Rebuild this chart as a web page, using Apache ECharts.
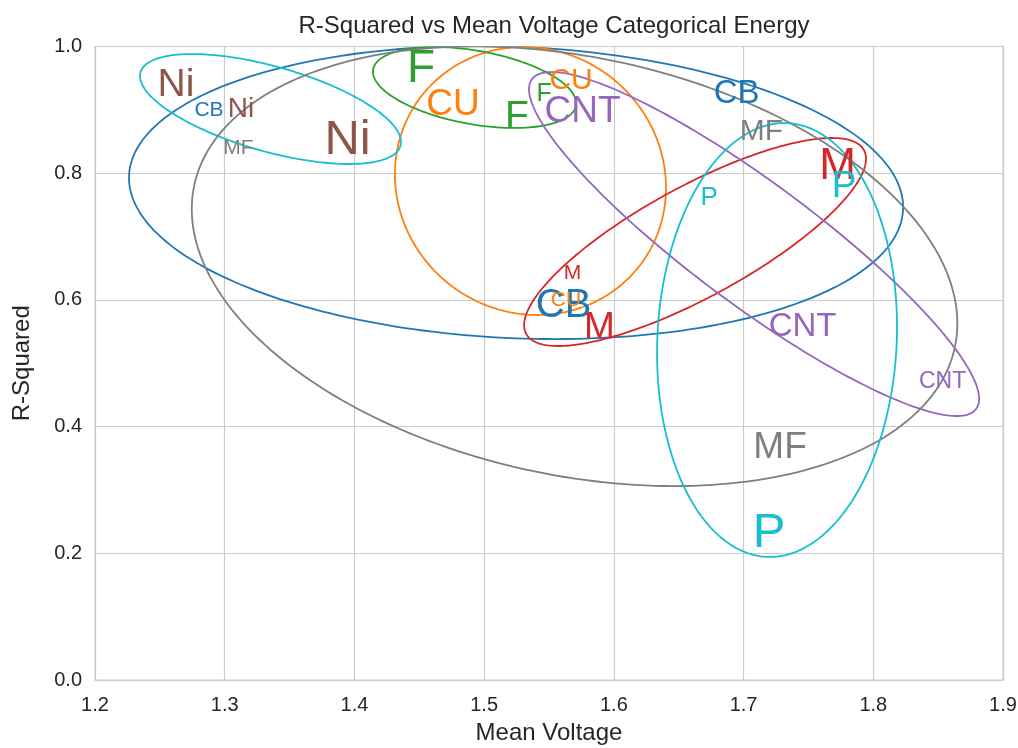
<!DOCTYPE html>
<html>
<head>
<meta charset="utf-8">
<script src="https://cdn.jsdelivr.net/npm/echarts@6/dist/echarts.min.js"></script>
<style>html,body{margin:0;padding:0;background:#fff;}#chart{width:1018px;height:748px;}</style>
</head>
<body>
<div id="chart"></div>
<script>
// ---- data ----
const categories = ['CB', 'CU', 'F', 'M', 'CNT', 'Ni', 'MF', 'P'];
const categoryColors = ['#1f77b4', '#ff7f0e', '#2ca02c', '#d62728', '#9467bd', '#8c564b', '#7f7f7f', '#17becf'];
// points: [meanVoltage, rSquared, relative magnitude]
const pointsCB  = [[1.2879, 0.9006, 21], [1.6946, 0.9290, 33], [1.5612, 0.5959, 40]];
const pointsCU  = [[1.4760, 0.9132, 37], [1.5670, 0.9487, 30], [1.5631, 0.6006, 21]];
const pointsF   = [[1.4513, 0.9684, 46], [1.5253, 0.8935, 39], [1.5462, 0.9274, 25]];
const pointsM   = [[1.7724, 0.8145, 44], [1.5681, 0.6433, 21], [1.5889, 0.5604, 37]];
const pointsCNT = [[1.5758, 0.9021, 37], [1.7455, 0.5604, 33], [1.8534, 0.4736, 23]];
const pointsNi  = [[1.2624, 0.9432, 39], [1.3126, 0.9045, 28], [1.3947, 0.8564, 49]];
const pointsMF  = [[1.3106, 0.8406, 21], [1.7138, 0.8682, 30], [1.7281, 0.3710, 37]];
const pointsP   = [[1.7774, 0.7837, 37], [1.6734, 0.7640, 26], [1.7196, 0.2360, 49]];
const pointSets = [pointsCB, pointsCU, pointsF, pointsM, pointsCNT, pointsNi, pointsMF, pointsP];

// ellipses: [centerX, centerY, halfWidthX, halfHeightY, correlation]
const ellipseCategories = ['CB', 'CU', 'F', 'M', 'CNT', 'Ni', 'MF', 'P'];
const ellipseColors = ['#1f77b4', '#ff7f0e', '#2ca02c', '#d62728', '#9467bd', '#17becf', '#7f7f7f', '#17becf'];
const ellipseCB  = [1.5246, 0.7695, 0.2984, 0.2313, -0.10];
const ellipseCU  = [1.5357, 0.7877, 0.1045, 0.2115, -0.05];
const ellipseF   = [1.4926, 0.9353, 0.0783, 0.0639, -0.39];
const ellipseM   = [1.6626, 0.6914, 0.1318, 0.1642, 0.80];
const ellipseCNT = [1.7081, 0.6882, 0.1735, 0.2715, -0.90];
const ellipseNi  = [1.3353, 0.9013, 0.1006, 0.0868, -0.60];
const ellipseMF  = [1.5697, 0.6531, 0.2951, 0.3470, -0.26];
const ellipseP   = [1.7258, 0.5367, 0.0925, 0.3425, 0.06];
const ellipses = [ellipseCB, ellipseCU, ellipseF, ellipseM, ellipseCNT, ellipseNi, ellipseMF, ellipseP];

const xTicks = ['1.2', '1.3', '1.4', '1.5', '1.6', '1.7', '1.8', '1.9'];
const yTicks = ['0.0', '0.2', '0.4', '0.6', '0.8', '1.0'];

// ---- chart ----
const chart = echarts.init(document.getElementById('chart'), null, {renderer: 'canvas'});
const FONT = '"Liberation Sans", Arial, Helvetica, sans-serif';
const TXT = '#262626';

const series = [];
ellipses.forEach((e, i) => {
  series.push({
    type: 'custom',
    name: 'ellipse-' + ellipseCategories[i],
    clip: true,
    silent: true,
    z: 2,
    data: [e],
    renderItem: function (params, api) {
      const cx = api.value(0), cy = api.value(1), sx = api.value(2), sy = api.value(3), r = api.value(4);
      const a = Math.sqrt(1 + r), b = Math.sqrt(1 - r);
      const pts = [];
      const N = 240;
      for (let k = 0; k < N; k++) {
        const t = 2 * Math.PI * k / N;
        const u = a * Math.cos(t), v = b * Math.sin(t);
        pts.push(api.coord([cx + sx * (u - v) / Math.SQRT2, cy + sy * (u + v) / Math.SQRT2]));
      }
      return {
        type: 'polygon',
        shape: {points: pts},
        style: {fill: 'none', stroke: ellipseColors[i], lineWidth: 1.8}
      };
    }
  });
});
pointSets.forEach((pts, i) => {
  series.push({
    type: 'scatter',
    name: categories[i],
    symbolSize: 0,
    z: 5,
    silent: true,
    itemStyle: {opacity: 1, color: categoryColors[i]},
    data: pts.map(p => ({
      value: [p[0], p[1]],
      label: {fontSize: p[2], offset: [0, Math.round(p[2] * 0.07)]}
    })),
    label: {
      show: true,
      position: 'inside',
      formatter: categories[i],
      color: categoryColors[i],
      opacity: 1,
      fontFamily: FONT,
      align: 'center',
      verticalAlign: 'middle'
    }
  });
});

chart.setOption({
  animation: false,
  backgroundColor: '#ffffff',
  title: {
    text: 'R-Squared vs Mean Voltage Categorical Energy',
    left: 549,
    top: 9,
    textAlign: 'center',
    textStyle: {fontFamily: FONT, fontSize: 24, fontWeight: 'normal', color: TXT}
  },
  grid: {left: 95, right: 15, top: 46.5, bottom: 68, show: true, borderColor: '#cccccc', borderWidth: 1.2,
    containLabel: false, outerBoundsMode: 'none'},
  xAxis: {
    type: 'value', min: 1.2, max: 1.9, interval: 0.1,
    name: 'Mean Voltage', nameLocation: 'middle', nameGap: 41,
    nameTextStyle: {fontFamily: FONT, fontSize: 24, color: TXT},
    axisLine: {show: false}, axisTick: {show: false},
    axisLabel: {fontFamily: FONT, fontSize: 20, color: TXT, margin: 15,
      formatter: v => xTicks[Math.round((v - 1.2) / 0.1)]},
    splitLine: {show: true, lineStyle: {color: '#cccccc', width: 1.2}}
  },
  yAxis: {
    type: 'value', min: 0, max: 1, interval: 0.2,
    name: 'R-Squared', nameLocation: 'middle', nameGap: 61,
    nameTextStyle: {fontFamily: FONT, fontSize: 24, color: TXT},
    axisLine: {show: false}, axisTick: {show: false},
    axisLabel: {fontFamily: FONT, fontSize: 20, color: TXT, margin: 13,
      formatter: v => yTicks[Math.round(v / 0.2)]},
    splitLine: {show: true, lineStyle: {color: '#cccccc', width: 1.2}}
  },
  series: series
});
</script>
</body>
</html>
